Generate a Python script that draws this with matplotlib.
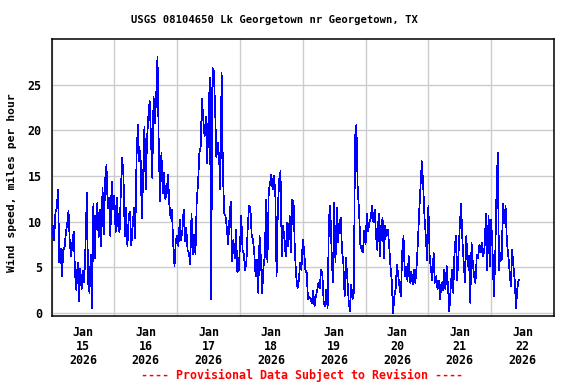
import matplotlib
matplotlib.use("Agg")
import matplotlib.pyplot as plt
import matplotlib.dates as mdates
import pandas as pd
import numpy as np

# Wind speed (mph), 30-minute readings, one list per day starting at midnight
jan15 = [8.2, 9.5, 8.0, 11.0, 11.5, 13.5, 5.5, 7.0, 4.0, 6.9, 7.2, 8.8, 9.7, 11.2, 7.6, 6.2,
         7.8, 8.9, 4.2, 2.5, 5.5, 1.3, 4.8, 2.6, 4.6, 3.3, 7.5, 13.1, 3.3, 2.2, 6.4, 0.5,
         11.9, 6.0, 10.2, 12.0, 8.3, 11.3, 7.3, 13.7, 8.6, 14.6, 16.2, 11.5, 12.6, 8.4, 14.4, 11.3]
jan16 = [12.8, 8.8, 12.6, 9.5, 8.8, 13.3, 17.0, 15.0, 8.4, 11.5, 7.3, 10.6,
         11.1, 7.4, 9.5, 11.5, 8.2, 17.2, 20.6, 16.6, 17.7, 10.4,
         14.6, 20.4, 13.5, 19.0, 21.5, 23.2, 19.3, 14.8, 23.7, 20.8,
         23.7, 28.1, 17.9, 12.2, 17.5, 13.1, 15.3, 12.5, 13.1, 15.1,
         12.0, 10.4, 11.3, 7.5, 5.1, 8.0]
jan17 = [8.4, 7.3, 10.2, 8.0, 9.0, 11.3, 7.8, 9.3, 6.8, 6.6, 5.3, 10.8, 6.4, 8.5, 6.4,
         12.4, 14.2, 17.5, 18.2, 23.5, 21.2, 19.3, 21.5, 16.4, 21.5,
         25.7, 1.5, 26.8, 26.5, 22.6, 17.0, 18.6, 17.2, 13.5, 26.3, 15.3, 10.9, 10.6,
         9.3, 7.5, 10.4, 12.2, 5.7, 8.0, 6.0, 9.1, 4.5, 4.6]
jan18 = [7.3, 10.6, 6.9, 6.4, 4.7, 5.7, 9.5, 11.7, 11.5, 8.4,
         8.0, 6.4, 4.0, 5.8, 2.2, 8.4, 6.0, 2.2, 5.1, 6.2,
         12.4, 5.5, 13.3, 14.2, 15.1, 13.5, 15.0, 13.3, 4.0, 11.5,
         14.6, 15.5, 6.2, 9.5, 8.0, 6.2, 9.9, 7.3,
         10.6, 6.6, 12.4, 12.0, 6.6, 4.0, 2.7, 3.6, 5.5, 4.7]
jan19 = [8.0, 6.9, 4.7, 4.4, 1.5, 1.8, 1.5, 1.1, 2.4, 0.7,
         1.8, 2.4, 3.3, 2.7, 4.7, 4.2, 1.1, 0.7, 2.5, 0.5,
         10.4, 11.7, 6.9, 3.3, 12.0, 5.5, 11.5, 7.7, 9.9, 10.4,
         6.9, 5.5, 1.8, 6.0, 4.0, 1.5, 0.2, 3.1, 1.5, 2.2,
         19.3, 20.6, 13.5, 11.3, 7.5, 6.9, 6.6, 9.0]
jan20 = [7.5, 10.9, 8.9,
         10.0, 10.4, 11.7, 9.9, 11.3, 8.4, 6.9, 10.9, 6.2, 9.5,
         10.4, 6.0, 9.5, 8.4, 9.1, 7.5, 5.1, 3.5, 0.0, 1.8,
         2.7, 5.3, 4.0, 2.8, 1.8, 6.6, 8.4, 4.0, 5.0, 3.5,
         6.2, 3.3, 4.5, 3.1, 4.7, 3.3, 5.1, 7.8, 11.1, 13.9,
         16.6, 14.1, 10.6, 8.4, 5.8]
jan21 = [11.7, 6.2, 4.7, 3.6, 6.6, 3.3, 4.0, 2.6, 3.5, 1.5, 3.3, 2.5, 4.7, 2.6, 5.1, 2.8,
         0.2, 2.6, 4.7, 2.2, 6.9, 8.4, 3.6, 6.4, 9.5, 11.9,
         8.0, 5.5, 3.3, 8.4, 5.1, 6.2, 1.1, 7.7, 5.3, 4.0,
         3.3, 6.4, 6.0, 7.5, 6.6, 7.7, 6.2, 7.3, 10.8, 4.7,
         10.6, 5.1]
jan22 = [10.2, 7.0, 1.8, 5.5, 12.8, 17.5, 4.7, 6.6, 5.8, 11.9, 9.8, 11.7, 7.7, 6.4,
         4.7, 2.9, 6.9, 5.1, 3.5, 0.5, 2.7, 3.6]

values = jan15 + jan16 + jan17 + jan18 + jan19 + jan20 + jan21 + jan22
times = pd.date_range("2026-01-15 00:00", periods=len(values), freq="30min")

title = "USGS 08104650 Lk Georgetown nr Georgetown, TX"
ylabel = "Wind speed, miles per hour"
footer = "---- Provisional Data Subject to Revision ----"
yticks = [0, 5, 10, 15, 20, 25]

mono = "DejaVu Sans Mono"

fig = plt.figure(figsize=(5.76, 3.84), dpi=100)
ax = fig.add_axes([51.5/576, (384-316)/384, (554-51.5)/576, (316-39)/384])

ax.plot(times, values, color="#0000FF", lw=0.5, zorder=3, antialiased=False)

ax.set_xlim(pd.Timestamp("2026-01-15"), pd.Timestamp("2026-01-23"))
ax.set_ylim(-0.35, 30)

ax.xaxis.set_major_locator(mdates.DayLocator())
ax.xaxis.set_major_formatter(plt.NullFormatter())
ax.xaxis.set_minor_locator(mdates.HourLocator(byhour=[12]))
ax.xaxis.set_minor_formatter(mdates.DateFormatter("%b\n%d\n%Y"))
ax.tick_params(axis="x", which="both", length=0)
ax.tick_params(axis="x", which="minor", pad=7)
for lab in ax.get_xticklabels(minor=True):
    lab.set_fontfamily(mono)
    lab.set_fontweight("bold")
    lab.set_fontsize(8.4)
    lab.set_linespacing(1.1)

ax.set_yticks(yticks)
ax.tick_params(axis="y", length=0, pad=7)
for lab in ax.get_yticklabels():
    lab.set_fontfamily(mono)
    lab.set_fontweight("bold")
    lab.set_fontsize(8.4)

ax.grid(True, which="major", color="#cccccc", lw=1.0, zorder=0)
for s in ax.spines.values():
    s.set_linewidth(1.1)
    s.set_color("black")

fig.text(274/576, 1 - 20/384, title, ha="center", va="center",
         fontfamily=mono, fontweight="bold", fontsize=7.6)
fig.text(12/576, 1 - 183/384, ylabel, ha="center", va="center", rotation=90,
         fontfamily=mono, fontweight="bold", fontsize=8.2)
fig.text(302/576, 1 - 375/384, footer, ha="center", va="center", color="#FF0000",
         fontfamily=mono, fontweight="bold", fontsize=8.4)

fig.savefig("out.png", dpi=100)
